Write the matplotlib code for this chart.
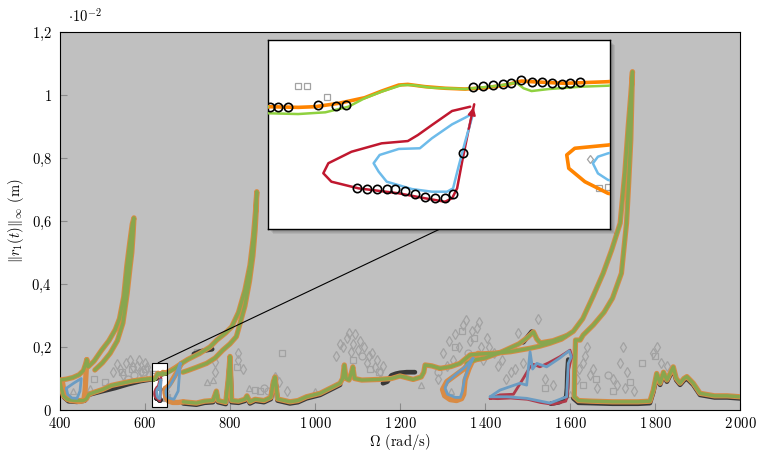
import numpy as np
import matplotlib.pyplot as plt
from matplotlib.patches import Rectangle, ConnectionPatch

plt.rcParams['font.family'] = 'serif'
plt.rcParams['font.serif'] = ['cmr10', 'DejaVu Serif']
plt.rcParams['mathtext.fontset'] = 'cm'
plt.rcParams['axes.formatter.use_mathtext'] = True

# ---- datos (Omega en rad/s, amplitud en 1e-2 m) ----
# rama superior con primer pico (~574 rad/s)
fold1_x = [400, 415, 430, 445, 455, 460, 463, 466, 480, 498, 515, 530, 540, 550, 557, 564, 570, 574,
           572, 569, 565, 558, 548, 535, 518, 500, 482]
fold1_y = [0.095, 0.098, 0.103, 0.112, 0.125, 0.145, 0.16, 0.137, 0.155, 0.19, 0.22, 0.255, 0.29, 0.36,
           0.455, 0.53, 0.59, 0.61, 0.56, 0.50, 0.455, 0.37, 0.276, 0.22, 0.18, 0.15, 0.127]
# rama inferior 400-617
low1_x = [400, 403, 408, 418, 435, 455, 462, 468, 480, 500, 521, 545, 570, 595, 617]
low1_y = [0.09, 0.07, 0.045, 0.033, 0.03, 0.03, 0.035, 0.05, 0.056, 0.065, 0.078, 0.085, 0.092, 0.097, 0.1]
loopL_orange_x = [405, 408, 412, 425, 445, 456, 459, 461, 463]
loopL_orange_y = [0.095, 0.07, 0.042, 0.03, 0.027, 0.03, 0.06, 0.11, 0.16]
loopL_blue_x = [415, 432, 450, 447, 440, 428, 418, 415]
loopL_blue_y = [0.069, 0.085, 0.10, 0.06, 0.037, 0.038, 0.05, 0.069]

# tramo ampliado (617-651)
mid_orange_x = [617.0, 620.0, 621.7, 624.0, 626.6, 628.3, 630.0, 630.9, 632.6, 634.6, 636.6, 638.6,
                640.6, 642.2, 643.2, 646.5, 650.8, 660, 672, 686]
mid_orange_y = [0.1001, 0.0996, 0.1001, 0.1026, 0.1068, 0.1118, 0.1163, 0.1168, 0.1151, 0.1139, 0.1133,
                0.1143, 0.1163, 0.1193, 0.1188, 0.1176, 0.1188, 0.125, 0.135, 0.148]
mid_green_x = [617.0, 620.0, 622.7, 625.0, 626.6, 628.3, 630.3, 631.3, 633.3, 636.6, 639.9, 641.7,
               642.4, 643.2, 644.9, 648.2, 650.8, 660, 672, 686]
mid_green_y = [0.0952, 0.0946, 0.0959, 0.1001, 0.1064, 0.1114, 0.1163, 0.1163, 0.1143, 0.1133, 0.1158,
               0.1181, 0.1139, 0.1118, 0.1133, 0.1151, 0.1158, 0.123, 0.133, 0.148]
red_in_x = [637.1, 635.3, 633.3, 631.9, 630.9, 628.3, 625.3, 623.0, 622.5, 623.3, 626.0, 630.0, 632.6,
            634.6, 635.3, 635.8, 636.3, 636.9, 637.5]
red_in_y = [0.1001, 0.0969, 0.0864, 0.0789, 0.0744, 0.0727, 0.0664, 0.0578, 0.0503, 0.0440, 0.0390,
            0.0353, 0.0316, 0.0290, 0.0316, 0.0390, 0.0590, 0.0814, 0.1019]
blue_in_x = [637.4, 636.6, 635.3, 633.3, 632.1, 630.0, 628.1, 627.5, 628.0, 628.8, 631.3, 633.3, 634.8,
             635.4, 635.9, 636.6, 637.4]
blue_in_y = [0.0952, 0.0919, 0.0869, 0.0765, 0.0690, 0.0685, 0.0640, 0.0578, 0.0515, 0.0440, 0.0385,
             0.0365, 0.0365, 0.0390, 0.0540, 0.0739, 0.0952]
blk_in_x = [617.2, 618.0, 619.0, 622.0, 623.8, 624.8, 637.4, 638.4, 639.4, 640.4, 641.2, 642.2, 643.2,
            644.2, 645.2, 646.2, 647.0, 648.0,
            625.8, 626.8, 627.8, 628.8, 629.6, 630.6, 631.6, 632.6, 633.6, 634.6, 635.4, 636.4]
blk_in_y = [0.100, 0.100, 0.100, 0.1014, 0.1008, 0.1014, 0.1151, 0.1159, 0.1164, 0.1169, 0.1177, 0.1201,
            0.1188, 0.1188, 0.1177, 0.1171, 0.1177, 0.1188,
            0.039, 0.0385, 0.0385, 0.0385, 0.0385, 0.037, 0.0346, 0.0328, 0.0316, 0.0316, 0.0346, 0.0652]

loop650_orange_x = [686, 675, 662, 655, 650.8, 647.5, 646.7, 646.9, 648.5, 650.8, 656, 665, 678, 690]
loop650_orange_y = [0.148, 0.12, 0.09, 0.076, 0.0714, 0.069, 0.064, 0.054, 0.044, 0.0353, 0.028, 0.024,
                    0.024, 0.026]
loop650_blue_x = [683, 672, 660, 650.8, 649.8, 649.3, 649.8, 650.8, 656, 668, 678, 683]
loop650_blue_y = [0.148, 0.11, 0.08, 0.0652, 0.0627, 0.0577, 0.0502, 0.0453, 0.038, 0.034, 0.06, 0.148]

# segundo pico (~863 rad/s)
fold2_x = [686, 700, 729, 753, 769, 790, 804, 820, 835, 847, 855, 860, 863, 862, 859, 854, 846, 835,
           815, 800, 783, 765, 745, 720, 700, 689]
fold2_y = [0.148, 0.16, 0.18, 0.2, 0.222, 0.245, 0.264, 0.31, 0.38, 0.46, 0.55, 0.63, 0.693, 0.64, 0.57,
           0.49, 0.41, 0.33, 0.233, 0.21, 0.19, 0.165, 0.148, 0.135, 0.125, 0.12]
low2_x = [690, 705, 721, 740, 760, 768, 772, 790, 796, 800, 804, 820, 835, 840, 847, 859, 880, 896, 902,
          906, 912, 941, 960, 980, 1012, 1043, 1059, 1065, 1069, 1073, 1080, 1086, 1089, 1093, 1110, 1150,
          1180, 1200, 1231, 1250, 1256, 1259, 1275, 1294]
low2_y = [0.026, 0.024, 0.022, 0.028, 0.03, 0.06, 0.03, 0.024, 0.10, 0.17, 0.03, 0.028, 0.034, 0.045,
          0.026, 0.034, 0.03, 0.04, 0.09, 0.105, 0.035, 0.026, 0.03, 0.042, 0.053, 0.074, 0.085, 0.1, 0.143,
          0.1, 0.095, 0.12, 0.137, 0.1, 0.095, 0.097, 0.1, 0.108, 0.097, 0.105, 0.12, 0.143, 0.14, 0.132]

# tercer pico (~1747 rad/s) y rama inferior final
upper3_x = [1294, 1320, 1341, 1365, 1388, 1420, 1460, 1506, 1530, 1553, 1580, 1608, 1630, 1654, 1678,
            1698, 1718, 1729, 1737, 1743, 1747, 1746, 1743, 1738, 1733, 1721, 1700, 1680, 1655, 1631,
            1624, 1613, 1611, 1610, 1620, 1650, 1700, 1760, 1788, 1796, 1804, 1812, 1820, 1828, 1843,
            1850, 1859, 1868, 1875, 1890, 1906, 1940, 1970, 2000]
upper3_y = [0.132, 0.138, 0.148, 0.175, 0.178, 0.18, 0.185, 0.196, 0.203, 0.212, 0.225, 0.25, 0.29,
            0.36, 0.434, 0.508, 0.593, 0.752, 0.9, 1.0, 1.074, 1.02, 0.857, 0.72, 0.593, 0.434, 0.355,
            0.31, 0.27, 0.238, 0.222, 0.222, 0.12, 0.042, 0.03, 0.028, 0.026, 0.026, 0.028, 0.063, 0.116,
            0.085, 0.12, 0.095, 0.137, 0.1, 0.085, 0.1, 0.106, 0.085, 0.053, 0.045, 0.045, 0.042]
lineU_x = [1357, 1380, 1400, 1440, 1480, 1500, 1514, 1522, 1530, 1560, 1590]
lineU_y = [0.148, 0.16, 0.165, 0.185, 0.21, 0.23, 0.248, 0.225, 0.213, 0.22, 0.235]
loop1300_orange_x = [1384, 1372, 1350, 1330, 1310, 1300, 1305, 1318, 1333, 1345, 1350, 1353, 1362, 1372]
loop1300_orange_y = [0.18, 0.164, 0.13, 0.11, 0.09, 0.065, 0.045, 0.033, 0.03, 0.036, 0.05, 0.095, 0.13,
                     0.16]
loop1300_blue_x = [1372, 1352, 1333, 1312, 1306, 1312, 1330, 1342, 1347, 1352, 1362, 1372]
loop1300_blue_y = [0.164, 0.135, 0.115, 0.09, 0.07, 0.05, 0.04, 0.04, 0.06, 0.1, 0.135, 0.164]
red_big_x = [1412, 1435, 1467, 1490, 1506, 1514, 1529, 1550, 1576, 1600, 1604, 1597, 1594, 1590, 1560,
             1530, 1500, 1460, 1430, 1412]
red_big_y = [0.037, 0.048, 0.05, 0.1, 0.137, 0.145, 0.137, 0.15, 0.169, 0.19, 0.17, 0.13, 0.05, 0.028,
             0.018, 0.024, 0.034, 0.038, 0.036, 0.037]
blue_big_x = [1412, 1435, 1482, 1498, 1506, 1512, 1522, 1545, 1576, 1598, 1603, 1596, 1592, 1553, 1498,
              1451, 1412]
blue_big_y = [0.042, 0.063, 0.085, 0.079, 0.185, 0.13, 0.148, 0.137, 0.165, 0.188, 0.169, 0.148, 0.042,
              0.022, 0.037, 0.042, 0.042]

# soluciones de referencia (circulos negros)
blk_low1_x = [400, 404, 410, 420, 440, 458, 466, 480, 500, 530, 560, 590, 617]
blk_low1_y = [0.085, 0.06, 0.04, 0.028, 0.026, 0.03, 0.048, 0.053, 0.06, 0.07, 0.082, 0.092, 0.098]
blk_seg2_x = [715, 730, 745, 758]
blk_seg2_y = [0.178, 0.186, 0.19, 0.193]
blk_low2_x = [690, 705, 721, 740, 760, 768, 772, 790, 796, 800, 804, 820, 835, 840, 847, 859, 880, 896,
              902, 906, 912, 941, 960, 980, 1012, 1043, 1059]
blk_low2_y = [0.021, 0.019, 0.017, 0.023, 0.025, 0.055, 0.025, 0.019, 0.09, 0.16, 0.025, 0.023, 0.029,
              0.04, 0.021, 0.029, 0.025, 0.035, 0.085, 0.1, 0.03, 0.021, 0.025, 0.037, 0.048, 0.069, 0.08]
blk_seg4_x = [1160, 1170, 1180, 1190, 1200, 1216, 1235]
blk_seg4_y = [0.085, 0.09, 0.11, 0.115, 0.118, 0.12, 0.12]
blk_seg5_x = [1490, 1500, 1510, 1516]
blk_seg5_y = [0.215, 0.232, 0.249, 0.24]
blk_seg6_x = [1596, 1594, 1593, 1591, 1575, 1555]
blk_seg6_y = [0.16, 0.12, 0.07, 0.04, 0.025, 0.02]
blk_low3_x = [1608, 1620, 1650, 1700, 1760, 1788, 1796, 1804, 1812, 1820, 1828, 1843, 1850, 1859, 1868,
              1875, 1890, 1906, 1940, 1970, 2000]
blk_low3_y = [0.037, 0.023, 0.022, 0.02, 0.02, 0.022, 0.057, 0.108, 0.08, 0.113, 0.09, 0.13, 0.095, 0.08,
              0.094, 0.1, 0.08, 0.048, 0.04, 0.04, 0.037]

# puntos grises (otras simulaciones)
sq_x = [480, 505, 545, 570, 600, 619.95, 620.9, 622.9, 649.9, 650.8, 722, 816, 859, 870, 922, 1089, 1130,
        1150, 1330, 1345, 1375, 1540, 1630, 1660, 1700, 1740, 1770, 1800]
sq_y = [0.10, 0.09, 0.12, 0.13, 0.13, 0.1158, 0.1158, 0.1074, 0.0395, 0.0402, 0.185, 0.137, 0.063, 0.06,
        0.18, 0.159, 0.13, 0.12, 0.2, 0.25, 0.23, 0.07, 0.08, 0.1, 0.06, 0.09, 0.15, 0.17]
dia_x = [525, 535, 540, 548, 555, 565, 572, 580, 585, 590, 600, 605, 610, 649.0, 765, 765, 819, 819, 830,
         906, 915, 935, 1050, 1058, 1066, 1075, 1080, 1085, 1090, 1095, 1100, 1106, 1115, 1122, 1128, 1135,
         1140, 1145, 1153, 1160, 1290, 1300, 1310, 1315, 1325, 1330, 1338, 1348, 1355, 1365, 1370, 1380,
         1385, 1390, 1395, 1405, 1410, 1420, 1430, 1440, 1450, 1460, 1470, 1478, 1490, 1525, 1540, 1560,
         1616, 1620, 1630, 1635, 1640, 1648, 1655, 1663, 1700, 1711, 1718, 1724, 1730, 1735, 1750, 1796,
         1805, 1815, 1828]
dia_y = [0.12, 0.145, 0.13, 0.11, 0.15, 0.16, 0.135, 0.14, 0.16, 0.12, 0.15, 0.135, 0.11, 0.0607, 0.12,
         0.153, 0.18, 0.159, 0.13, 0.106, 0.09, 0.06, 0.17, 0.21, 0.2, 0.23, 0.245, 0.185, 0.21, 0.24, 0.19,
         0.22, 0.2, 0.15, 0.17, 0.18, 0.135, 0.16, 0.12, 0.14, 0.1, 0.18, 0.14, 0.22, 0.16, 0.24, 0.2, 0.27,
         0.286, 0.22, 0.25, 0.26, 0.28, 0.2, 0.16, 0.23, 0.2, 0.18, 0.14, 0.16, 0.1, 0.12, 0.13, 0.244, 0.15,
         0.29, 0.1, 0.08, 0.1, 0.13, 0.15, 0.17, 0.2, 0.11, 0.13, 0.07, 0.1, 0.08, 0.15, 0.2, 0.07, 0.12,
         0.06, 0.18, 0.2, 0.15, 0.14]
tri_x = [430, 470, 510, 745, 761, 800, 845, 1000, 1250, 1320, 1600]
tri_y = [0.06, 0.07, 0.075, 0.09, 0.095, 0.06, 0.07, 0.06, 0.08, 0.06, 0.05]
circ_x = [560, 575, 595, 880, 890, 1110, 1290, 1360, 1690]
circ_y = [0.1, 0.11, 0.12, 0.07, 0.06, 0.17, 0.12, 0.18, 0.11]

# zona ampliada
zoom_x0, zoom_x1 = 617, 651
zoom_y0, zoom_y1 = 0.0086, 0.150

orange_segs = [(fold1_x, fold1_y), (low1_x, low1_y), (loopL_orange_x, loopL_orange_y),
               (mid_orange_x, mid_orange_y), (loop650_orange_x, loop650_orange_y), (fold2_x, fold2_y),
               (low2_x, low2_y), (loop1300_orange_x, loop1300_orange_y), (upper3_x, upper3_y),
               (lineU_x, lineU_y)]
green_segs = [(fold1_x, fold1_y), (low1_x, low1_y), (mid_green_x, mid_green_y), (fold2_x, fold2_y),
              (low2_x, low2_y), (upper3_x, upper3_y), (lineU_x, lineU_y)]
blue_segs = [(loopL_blue_x, loopL_blue_y), (blue_in_x, blue_in_y), (loop650_blue_x, loop650_blue_y),
             (loop1300_blue_x, loop1300_blue_y), (blue_big_x, blue_big_y)]
red_segs = [(red_in_x, red_in_y), (red_big_x, red_big_y)]
black_segs = [(blk_low1_x, blk_low1_y), (blk_seg2_x, blk_seg2_y), (blk_low2_x, blk_low2_y),
              (blk_seg4_x, blk_seg4_y), (blk_seg5_x, blk_seg5_y), (blk_seg6_x, blk_seg6_y),
              (blk_low3_x, blk_low3_y)]


def dibujar(axe, segs, **kw):
    for sx, sy in segs:
        axe.plot(sx, sy, solid_capstyle='round', solid_joinstyle='round', **kw)


def grises(axe, ms):
    kw = dict(ls='none', mfc='none', mec='#a2a2a2', mew=0.9, ms=ms, zorder=2)
    axe.plot(sq_x, sq_y, marker='s', **kw)
    axe.plot(dia_x, dia_y, marker='d', **kw)
    axe.plot(tri_x, tri_y, marker='^', **kw)
    axe.plot(circ_x, circ_y, marker='o', **kw)


fig = plt.figure(figsize=(7.6, 4.51), dpi=100)
ax = fig.add_axes([60 / 760, 41 / 451, 680 / 760, 378 / 451])
ax.set_facecolor('#c0c0c0')

grises(ax, 5)
ax.add_patch(Rectangle((zoom_x0, zoom_y0), zoom_x1 - zoom_x0, zoom_y1 - zoom_y0,
                       facecolor='white', edgecolor='none', zorder=1.5))
dibujar(ax, black_segs, color='#383838', lw=3.4, zorder=3)
ax.plot(blk_in_x, blk_in_y, ls='none', marker='o', ms=2.5, mfc='none', mec='#222222', mew=0.8, zorder=3)
dibujar(ax, orange_segs, color='#d88b45', lw=3.8, zorder=4)
dibujar(ax, green_segs, color='#88a64e', lw=2.4, zorder=5)
dibujar(ax, red_segs, color='#b03a4a', lw=2.0, zorder=6)
dibujar(ax, blue_segs, color='#6b9cc3', lw=2.0, zorder=6)
ax.add_patch(Rectangle((zoom_x0, zoom_y0), zoom_x1 - zoom_x0, zoom_y1 - zoom_y0,
                       facecolor='none', edgecolor='black', lw=0.8, zorder=7))

ax.set_xlim(400, 2000)
ax.set_ylim(0, 1.2)
xt = list(range(400, 2001, 200))
ax.set_xticks(xt)
ax.set_xticklabels([r'$%d$' % v if v < 1000 else r'$%d\,%03d$' % (v // 1000, v % 1000) for v in xt])
yt = [0, 0.2, 0.4, 0.6, 0.8, 1.0, 1.2]
ax.set_yticks(yt)
ax.set_yticklabels([r'$0$', r'$0{,}2$', r'$0{,}4$', r'$0{,}6$', r'$0{,}8$', r'$1$', r'$1{,}2$'])
ax.tick_params(direction='in', length=5, width=0.8, color='#8a8a8a', labelsize=10.5)
ax.tick_params(axis='x', pad=4)
ax.tick_params(axis='y', pad=6)
for s in ax.spines.values():
    s.set_linewidth(0.8)
ax.set_xlabel(r'$\Omega$ (rad/s)', fontsize=10.5, labelpad=1)
ax.set_ylabel(r'$\Vert r_1(t)\Vert_\infty$ (m)', fontsize=10.5, labelpad=4)
fig.text(68 / 760, 1 - 16 / 451, r'$\cdot 10^{-2}$', fontsize=10.5, va='center', ha='left')

# sombra del recuadro
ins_pos = [268 / 760, (451 - 229) / 451, 342 / 760, 189 / 451]
for k in range(1, 6):
    fig.add_artist(Rectangle((ins_pos[0] + k / 760, ins_pos[1] - k / 451), ins_pos[2], ins_pos[3],
                             transform=fig.transFigure, facecolor='black', edgecolor='none',
                             alpha=0.07, zorder=2))

axins = fig.add_axes(ins_pos, zorder=3)
axins.set_facecolor('white')
grises(axins, 4.5)
dibujar(axins, orange_segs, color='#ff8400', lw=2.6, zorder=4)
dibujar(axins, green_segs, color='#8fd13f', lw=1.8, zorder=5)
dibujar(axins, red_segs, color='#c0182f', lw=1.8, zorder=6)
dibujar(axins, blue_segs, color='#6dbbea', lw=1.8, zorder=6)
axins.annotate('', xy=(red_in_x[-1], red_in_y[-1]), xytext=(red_in_x[-2], red_in_y[-2]),
               arrowprops=dict(arrowstyle='-|>', color='#c0182f', lw=1.5, mutation_scale=11), zorder=7)
axins.plot(blk_in_x, blk_in_y, ls='none', marker='o', ms=6, mfc='none', mec='black', mew=1.2, zorder=8)
axins.set_xlim(zoom_x0, zoom_x1)
axins.set_ylim(zoom_y0, zoom_y1)
axins.set_xticks([])
axins.set_yticks([])
for s in axins.spines.values():
    s.set_linewidth(1.0)

con = ConnectionPatch(xyA=(631, zoom_y1), coordsA=ax.transData, xyB=(0.503, 0.0),
                      coordsB=axins.transAxes, color='black', lw=0.8, zorder=2.5)
fig.add_artist(con)

fig.savefig('out.png', dpi=100)
